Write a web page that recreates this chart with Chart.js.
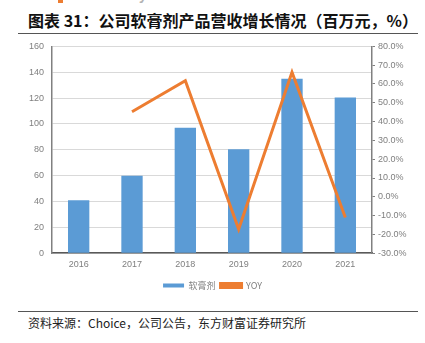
<!DOCTYPE html>
<html>
<head>
<meta charset="utf-8">
<script src="https://cdn.jsdelivr.net/npm/chart.js@4/dist/chart.umd.min.js"></script>
<style>
  html, body { margin: 0; padding: 0; background: #fff; }
  #page { position: relative; width: 425px; height: 343px; overflow: hidden; background: #fff; }
  .brand { position: absolute; left: 72px; top: -13px; font: bold 14px "Liberation Sans", Arial, sans-serif; color: #b3b3b3; white-space: nowrap; }
  .brand-mark { position: absolute; left: 58px; top: 0; width: 5px; height: 3px; background: #ed7d31; }
  .title { position: absolute; left: 28px; top: 8px; font: bold 16px "Noto Sans CJK SC", sans-serif; color: #111; white-space: nowrap; }
  .rule { position: absolute; left: 18px; width: 400px; height: 1px; background: #555; }
  .source { position: absolute; left: 28px; top: 314px; font: 12px "Noto Sans CJK SC", sans-serif; color: #222; white-space: nowrap; }
  #wrap { position: absolute; left: 0; top: 33px; width: 425px; height: 267px; }
</style>
</head>
<body>
<div id="page">
  <div class="brand-mark"></div>
  <div class="brand">Eastmoney Securities</div>
  <div class="title">图表 31：公司软膏剂产品营收增长情况（百万元，%）</div>
  <div class="rule" style="top:33px"></div>
  <div id="wrap"><canvas id="grafica"></canvas></div>
  <div class="rule" style="top:311px"></div>
  <div class="source">资料来源：Choice，公司公告，东方财富证券研究所</div>
</div>
<script>
// Datos
const anios = ['2016', '2017', '2018', '2019', '2020', '2021'];
const ingresos = [41, 60, 97, 80.5, 135, 120.5];      // 百万元
const yoy = [null, 45.2, 61.7, -17.2, 66.2, -11.0];  // %

const fuenteEjes = { family: '"Liberation Sans", Arial, sans-serif', size: 9 };
const grisTexto = '#7f7f7f';

new Chart(document.getElementById('grafica'), {
    type: 'bar',
    data: {
        labels: anios,
        datasets: [
            {
                label: '软膏剂',
                data: ingresos,
                backgroundColor: '#5b9bd5',
                borderWidth: 0,
                barPercentage: 0.4,
                categoryPercentage: 1,
                yAxisID: 'y',
                order: 2
            },
            {
                type: 'line',
                label: 'YOY',
                data: yoy,
                borderColor: '#ed7d31',
                backgroundColor: '#ed7d31',
                borderWidth: 3,
                pointRadius: 0,
                tension: 0,
                yAxisID: 'y1',
                order: 1
            }
        ]
    },
    options: {
        responsive: true,
        maintainAspectRatio: false,
        animation: false,
        layout: { padding: { top: 3, left: 0, right: 0, bottom: 0 } },
        plugins: {
            tooltip: { enabled: false },
            legend: {
                display: true,
                position: 'bottom',
                labels: {
                    boxWidth: 21,
                    boxHeight: 4,
                    color: grisTexto,
                    padding: 5,
                    font: { family: '"Noto Sans CJK SC", sans-serif', size: 9 },
                    sort: (a, b) => a.datasetIndex - b.datasetIndex
                }
            }
        },
        scales: {
            x: {
                grid: { display: false, drawTicks: false },
                border: { display: true, color: '#595959', width: 1.5 },
                ticks: { color: grisTexto, font: fuenteEjes, padding: 6 }
            },
            y: {
                position: 'left',
                min: 0,
                max: 160,
                ticks: { stepSize: 20, color: grisTexto, font: fuenteEjes, padding: 8 },
                grid: { color: '#d9d9d9', drawTicks: false },
                border: { display: true, color: '#808080', width: 1.5 },
                afterFit: (eje) => { eje.width = 52; }
            },
            y1: {
                position: 'right',
                min: -30,
                max: 80,
                ticks: {
                    stepSize: 10,
                    color: grisTexto,
                    font: fuenteEjes,
                    padding: 3,
                    callback: (v) => v.toFixed(1) + '%'
                },
                grid: { drawOnChartArea: false, drawTicks: true, tickLength: 3, color: '#808080' },
                border: { display: true, color: '#808080', width: 1.5 },
                afterFit: (eje) => { eje.width = 53; }
            }
        }
    }
});
</script>
</body>
</html>
